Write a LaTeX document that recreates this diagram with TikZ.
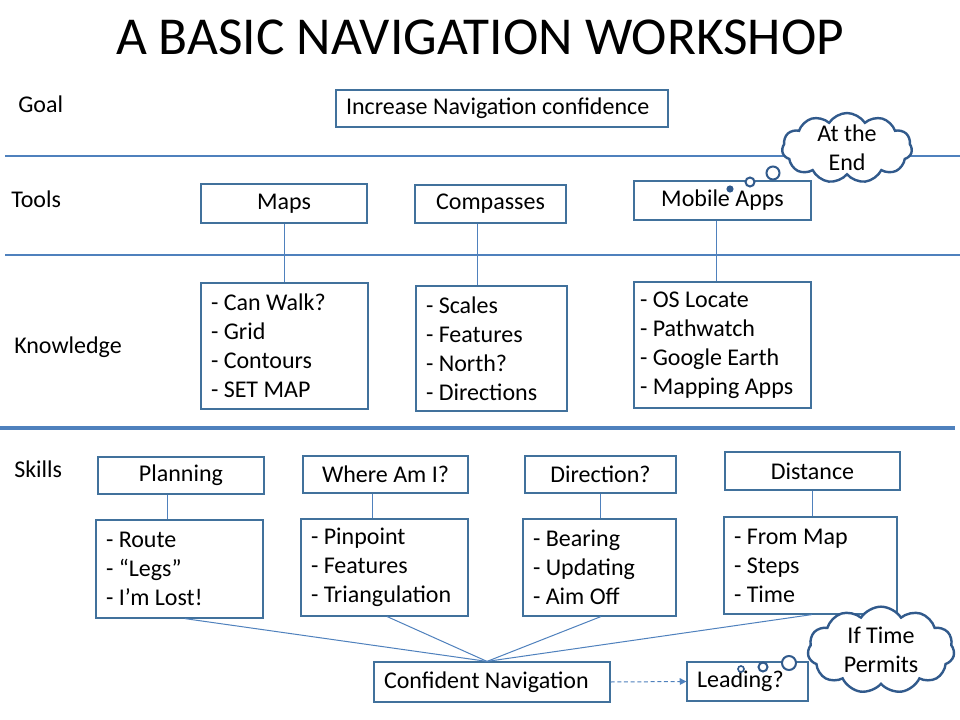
\documentclass[tikz,border=0pt]{standalone}
\usepackage{fontspec}
\setmainfont{Carlito}
\usetikzlibrary{shapes.symbols,arrows.meta,calc}
\definecolor{boxc}{RGB}{65,113,156}
\definecolor{linec}{RGB}{79,129,189}
\definecolor{cloudc}{RGB}{49,90,140}
\tikzset{
  bx/.style 2 args={draw=boxc, line width=0.9pt, minimum width={#1*0.75pt}, minimum height={#2*0.75pt}, inner sep=0pt, font=\fontsize{18}{21.75}\selectfont},
  lst/.style n args={3}{bx={#1}{#2}, text width=#3pt, align=flush left, inner xsep=7.5pt},
  lbl/.style={anchor=base west, inner sep=0pt, font=\fontsize{18}{21.75}\selectfont},
  conn/.style={draw=linec, line width=0.75pt},
  sep/.style={draw=linec, line width=0.8pt},
  thought/.style={cloud, cloud puffs=11, cloud puff arc=115, cloud ignores aspect, draw=cloudc, line width=1.8pt, fill=white, inner sep=0pt},
  bubble/.style={draw=cloudc, line width=1.5pt, fill=white},
  ctext/.style={align=center, inner sep=0pt, font=\fontsize{18}{21.75}\selectfont}
}
\begin{document}
\begin{tikzpicture}[x=0.75pt,y=-0.75pt]
\fill[white] (0,0) rectangle (960,720);
\useasboundingbox (0,0) rectangle (960,720);

% title
\node[anchor=base, inner sep=0pt, font=\fontsize{40}{48}\selectfont] (title) at (480,55) {A BASIC NAVIGATION WORKSHOP};

% row labels
\node[lbl] (lgoal) at (18,113) {Goal};
\node[lbl] (ltools) at (11,208) {Tools};
\node[lbl] (lknow) at (14,353) {Knowledge};
\node[lbl] (lskills) at (14,477) {Skills};

% separators
\coordinate (s1a) at (5,156); \coordinate (s1b) at (960,156);
\coordinate (s2a) at (5,255); \coordinate (s2b) at (960,255);
\coordinate (s3a) at (0,428); \coordinate (s3b) at (955,428);
\draw[sep] (s1a) -- (s1b);
\draw[sep] (s2a) -- (s2b);
\draw[draw=linec, line width=3.4pt] (s3a) -- (s3b);

% goal
\node[lst={332}{37}{234}] (goal) at (502,108.5) {Increase Navigation confidence};

% tools
\node[bx={166}{39}] (maps) at (284,203.5) {Maps};
\node[bx={151}{38}] (comp) at (490.5,204) {Compasses};
\node[bx={177}{39}] (mob) at (722.5,200.5) {Mobile Apps};

% knowledge
\node[lst={167}{126}{110.25}] (mapsL) at (284.5,346) {- Can Walk?\\- Grid\\- Contours\\- SET MAP};
\node[lst={151}{125}{98.25}] (compL) at (491.5,348.5) {- Scales\\- Features\\- North?\\- Directions};
\node[lst={177}{126}{123.75}, inner xsep=4.5pt] (mobL) at (722.5,345) {- OS Locate\\- Pathwatch\\- Google Earth\\- Mapping Apps};

\draw[conn] (maps.south) -- (maps.south |- mapsL.north);
\draw[conn] ([xshift=-9.75pt]comp.south) -- ([xshift=-9.75pt]comp.south |- compL.north);
\draw[conn] ([xshift=-4.5pt]mob.south) -- ([xshift=-4.5pt]mob.south |- mobL.north);

% skills
\node[bx={166}{37}] (plan) at (181,475.5) {Planning};
\node[bx={165}{37}] (where) at (385.5,474.5) {Where Am I?};
\node[bx={151}{37}] (dir) at (600.5,474.5) {Direction?};
\node[bx={175}{38}] (dist) at (812.5,471) {Distance};

\node[lst={167}{98}{110.25}] (planL) at (179.5,569) {- Route\\- “Legs”\\- I’m Lost!};
\node[lst={167}{97}{110.25}] (whereL) at (384.5,567.5) {- Pinpoint\\- Features\\- Triangulation};
\node[lst={153}{97}{99.75}] (dirL) at (599.5,567.5) {- Bearing\\- Updating\\- Aim Off};
\node[lst={173}{97}{114.75}] (distL) at (810.5,565.5) {- From Map\\- Steps\\- Time};

\draw[conn] ([xshift=-10.5pt]plan.south) -- ([xshift=-10.5pt]plan.south |- planL.north);
\draw[conn] ([xshift=-10pt]where.south) -- ([xshift=-10pt]where.south |- whereL.north);
\draw[conn] (dir.south) -- (dir.south |- dirL.north);
\draw[conn] (dist.south) -- (dist.south |- distL.north);

% outcome
\node[lst={236}{40}{162}] (conf) at (492,682) {Confident Navigation};
\node[lst={121}{39}{75.75}] (lead) at (747.5,681.5) {Leading?};
\coordinate (hub) at ([xshift=-3.75pt]conf.north);

\draw[conn] ([xshift=4pt]planL.south) -- (hub);
\draw[conn] ([xshift=2pt]whereL.south) -- (hub);
\draw[conn] ([xshift=1pt]dirL.south) -- (hub);
\draw[conn] ([xshift=1pt]distL.south) -- (hub);
\draw[conn, dash pattern=on 3pt off 2pt, -{Triangle[length=5pt,width=5pt]}] (conf.east) -- (lead.west);

% thought clouds
\node[thought, minimum width=97.5pt, minimum height=52.5pt] (cloudA) at (847,148) {};
\node[ctext] (cloudAt) at (cloudA.center) {At the\\End};
\draw[bubble, fill=cloudc] (730,189) circle[radius=2.5];
\draw[bubble] (750,182) circle[radius=4.5];
\draw[bubble] (773,173) circle[radius=6.5];

\node[thought, minimum width=110pt, minimum height=65pt] (cloudB) at (881,650) {};
\node[ctext] (cloudBt) at (cloudB.center) {If Time\\Permits};
\draw[bubble, line width=1.2pt] (741,669) circle[radius=3];
\draw[bubble] (763,667) circle[radius=4.5];
\draw[bubble] (789,663) circle[radius=7];
\end{tikzpicture}
\end{document}
